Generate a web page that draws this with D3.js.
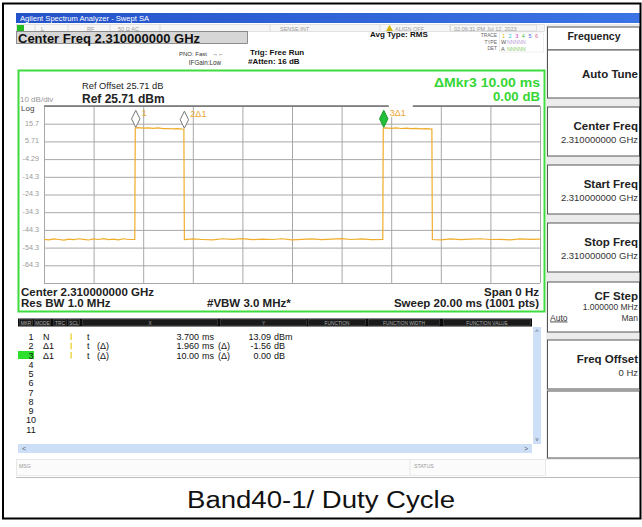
<!DOCTYPE html>
<html><head><meta charset="utf-8">
<script src="https://cdn.jsdelivr.net/npm/d3@7"></script>
<style>body{margin:0;background:#fff}svg{display:block;font-family:"Liberation Sans",Arial,sans-serif}</style>
</head><body><svg id="c" width="642" height="527"></svg>
<script>
// ---------------- DATA ----------------
const xGridMs = [0, 2, 4, 6, 8, 10, 12, 14, 16, 18, 20];
const yGridDbm = [25.71, 15.71, 5.71, -4.29, -14.29, -24.29, -34.29, -44.29, -54.29, -64.29, -74.29];
const yTickValues = [15.71, 5.71, -4.29, -14.29, -24.29, -34.29, -44.29, -54.29, -64.29];
const yTickLabels = ["15.7", "5.71", "-4.29", "-14.3", "-24.3", "-34.3", "-44.3", "-54.3", "-64.3"];

const traceTime = [
  0, 0.2, 0.4, 0.6, 0.8, 1.0, 1.2, 1.4, 1.6, 1.8, 2.0, 2.2, 2.4, 2.6, 2.8, 3.0, 3.2, 3.4, 3.66,
  3.68, 3.8, 4.0, 4.2, 4.4, 4.6, 4.8, 5.0, 5.2, 5.4, 5.64,
  5.66, 6.0, 6.4, 6.8, 7.2, 7.6, 8.0, 8.4, 8.8, 9.2, 9.6, 10.0, 10.4, 10.8, 11.2, 11.6, 12.0, 12.4, 12.8, 13.2, 13.66,
  13.68, 13.8, 14.0, 14.2, 14.4, 14.6, 14.8, 15.0, 15.2, 15.4, 15.64,
  15.66, 16.0, 16.4, 16.8, 17.2, 17.6, 18.0, 18.4, 18.8, 19.2, 19.6, 20.0
];
const traceLevel = [
  -49.6, -49.9, -49.4, -49.7, -50.1, -49.5, -49.8, -49.3, -49.6, -50.0, -49.4, -49.7, -49.2, -49.8, -49.5, -49.9, -49.3, -49.7, -49.6,
  13.3, 13.5, 13.2, 13.4, 13.1, 13.3, 12.9, 13.0, 12.8, 12.9, 12.6,
  -49.8, -49.4, -49.7, -49.9, -49.3, -49.6, -49.2, -49.8, -49.5, -49.7, -49.3, -49.9, -49.6, -49.4, -49.8, -49.5, -49.2, -49.7, -49.4, -49.8, -49.6,
  13.2, 13.4, 13.1, 13.3, 13.0, 13.2, 12.9, 13.1, 12.8, 12.9, 12.7,
  -49.7, -49.9, -49.4, -49.8, -49.5, -49.3, -49.7, -49.6, -49.9, -49.4, -49.6, -49.5
];

const markerTime = [3.70, 5.66, 13.70];
const markerLevel = [13.09, 12.6, 13.09];
const markerLabel = ["1", "2\u03941", "3\u03941"];

const tableHeaders = ["MKR", "MODE", "TRC", "SCL", "X", "Y", "FUNCTION", "FUNCTION WIDTH", "FUNCTION VALUE"];
const mkrNum = ["1", "2", "3", "4", "5", "6", "7", "8", "9", "10", "11"];
const mkrMode = ["N", "\u03941", "\u03941"];
const mkrScl = ["t", "t", "t"];
const mkrSclRel = ["", "(\u0394)", "(\u0394)"];
const mkrXNum = ["3.700", "1.960", "10.00"];
const mkrXUnit = ["ms", "ms", "ms"];
const mkrXRel = ["", "(\u0394)", "(\u0394)"];
const mkrYNum = ["13.09", "-1.56", "0.00"];
const mkrYUnit = ["dBm", "dB", "dB"];

const softkeyTitle = "Frequency";
const softkeyLabels = ["Auto Tune", "Center Freq", "Start Freq", "Stop Freq", "CF Step", "Freq Offset", ""];
const softkeyValues = ["", "2.310000000 GHz", "2.310000000 GHz", "2.310000000 GHz", "1.000000 MHz", "0 Hz", ""];

// ---------------- DRAW ----------------
const svg = d3.select('#c');
const F = '"Liberation Sans", Arial, sans-serif';
function txt(x, y, s, o = {}) {
  const t = svg.append('text').attr('x', x).attr('y', y).text(s)
    .attr('font-size', o.size || 9).attr('fill', o.fill || '#111')
    .attr('font-weight', o.bold ? 'bold' : 'normal')
    .attr('text-anchor', o.anchor || 'start');
  if (o.deco) t.attr('text-decoration', o.deco);
  return t;
}

// title bar
const defs = svg.append('defs');
const lg = defs.append('linearGradient').attr('id', 'tb').attr('x1', 0).attr('x2', 1).attr('y1', 0).attr('y2', 0);
lg.append('stop').attr('offset', 0).attr('stop-color', '#2452c9');
lg.append('stop').attr('offset', 1).attr('stop-color', '#3a74e4');
svg.append('rect').attr('x', 16).attr('y', 13).attr('width', 624).attr('height', 10).attr('fill', 'url(#tb)');
txt(20, 21, 'Agilent Spectrum Analyzer - Swept SA', {size: 7.6, fill: '#fff'});

// status row
svg.append('rect').attr('x', 16.5).attr('y', 24.5).attr('width', 528).attr('height', 7).attr('fill', '#f6f6f6').attr('stroke', '#d0d0d0').attr('stroke-width', 0.6);
svg.append('rect').attr('x', 17).attr('y', 25).attr('width', 7).attr('height', 6).attr('fill', '#22bb22');
[35, 68, 110, 160, 270, 380, 450].forEach(sx => svg.append('line').attr('x1', sx).attr('x2', sx).attr('y1', 25).attr('y2', 31).attr('stroke', '#ccc').attr('stroke-width', 0.6));
const st = {size: 5.5, fill: '#9a9a9a'};
txt(41, 30.5, 'L', st); txt(87, 30.5, 'RF', st); txt(118, 30.5, '50 \u03a9  AC', st);
txt(280, 30.5, 'SENSE:INT', st);
svg.append('path').attr('d', 'M386,31 L389.5,25 L393,31 Z').attr('fill', '#d4b000');
txt(395, 30.5, 'ALIGN OFF', st);
svg.append('rect').attr('x', 450.5).attr('y', 25).attr('width', 86).attr('height', 6).attr('fill', 'none').attr('stroke', '#ccc').attr('stroke-width', 0.5);
txt(454, 30.5, '02:06:31 PM Jul 12, 2023', st);

// center freq box
svg.append('rect').attr('x', 16.5).attr('y', 31.5).attr('width', 231).attr('height', 12).attr('fill', '#d6d6d6').attr('stroke', '#777').attr('stroke-width', 0.8);
txt(18, 42.5, 'Center Freq 2.310000000 GHz', {size: 13, bold: true});

txt(207, 56, 'PNO: Fast', {size: 6, fill: '#333', anchor: 'end'});
txt(212, 56, '\u2192\u2190', {size: 6, fill: '#333'});
txt(221, 64.5, 'IFGain:Low', {size: 6.3, fill: '#333', anchor: 'end'});
txt(250, 55, 'Trig: Free Run', {size: 8, bold: true});
txt(248, 63.5, '#Atten: 16 dB', {size: 8, bold: true});
txt(370, 37, 'Avg Type: RMS', {size: 8, bold: true});

// trace info
const ti = {size: 4.8, fill: '#666', anchor: 'end'};
txt(497, 37, 'TRACE', ti); txt(497, 43.5, 'TYPE', ti); txt(497, 50, 'DET', ti);
svg.append('rect').attr('x', 499.5).attr('y', 33).attr('width', 44).attr('height', 19).attr('fill', 'none').attr('stroke', '#ddd').attr('stroke-width', 0.5);
const tcol = ['#d8c000', '#22bbdd', '#cc44cc', '#44bb44', '#4466ee', '#cc6688'];
tcol.forEach((c, i) => txt(502 + i * 6.6, 37.5, String(i + 1), {size: 5.5, fill: c}));
txt(501, 44, 'W', {size: 5.5, fill: '#555'});
txt(507, 44, 'NNNNN', {size: 5.2, fill: '#b8a0d8'});
txt(501, 50.5, 'A', {size: 5.5, fill: '#555'});
txt(507, 50.5, 'NNNNN', {size: 5.2, fill: '#88cc66'});

// green frame
svg.append('rect').attr('x', 18.5).attr('y', 70.5).attr('width', 526).attr('height', 241).attr('fill', '#fff').attr('stroke', '#3fdc3f').attr('stroke-width', 2);

txt(82, 89, 'Ref Offset 25.71 dB', {size: 9.3, fill: '#222'});
txt(82, 102.5, 'Ref 25.71 dBm', {size: 12, bold: true, fill: '#222'});
txt(20, 101.5, '10 dB/div', {size: 8, fill: '#999'});
txt(21, 111, 'Log', {size: 8, fill: '#444'});
txt(540, 86.5, '\u0394Mkr3 10.00 ms', {size: 12.5, bold: true, fill: '#35d635', anchor: 'end'})
  .attr('textLength', 106).attr('lengthAdjust', 'spacingAndGlyphs');
txt(540, 100.5, '0.00 dB', {size: 12.5, bold: true, fill: '#35d635', anchor: 'end'})
  .attr('textLength', 47).attr('lengthAdjust', 'spacingAndGlyphs');

// scales
const x = d3.scaleLinear().domain([0, 20]).range([44, 540]);
const y = d3.scaleLinear().domain([-74.29, 25.71]).range([283, 106]);

const grid = svg.append('g');
grid.append('g').attr('transform', 'translate(0,283)')
  .call(d3.axisBottom(x).tickValues(xGridMs).tickSize(-(283 - 106)).tickFormat(''))
  .call(g => g.select('.domain').remove())
  .call(g => g.selectAll('line').attr('stroke', '#a8a8a8').attr('stroke-width', 1));
grid.append('g').attr('transform', 'translate(44,0)')
  .call(d3.axisLeft(y).tickValues(yGridDbm).tickSize(-(540 - 44)).tickFormat(''))
  .call(g => g.select('.domain').remove())
  .call(g => g.selectAll('line').attr('stroke', '#a8a8a8').attr('stroke-width', 1));
svg.append('line').attr('x1', 44).attr('x2', 540).attr('y1', y(25.71)).attr('y2', y(25.71)).attr('stroke', '#707070').attr('stroke-width', 1.6);

// y labels
const labelOf = new Map(yTickValues.map((v, i) => [v, yTickLabels[i]]));
svg.append('g').attr('transform', 'translate(39,0)')
  .call(d3.axisLeft(y).tickValues(yTickValues).tickSize(0).tickPadding(0).tickFormat(d => labelOf.get(d)))
  .call(g => g.select('.domain').remove())
  .call(g => g.selectAll('text').attr('fill', '#9a9a9a').attr('font-size', 7.2).attr('font-family', F).attr('dy', '0.2em'));

// trace
const pts = traceTime.map((t, i) => [t, traceLevel[i]]);
svg.append('path').datum(pts)
  .attr('d', d3.line().x(d => x(d[0])).y(d => y(d[1])))
  .attr('fill', 'none').attr('stroke', '#f0ad2a').attr('stroke-width', 1.2);

// markers
markerTime.forEach((t, i) => {
  const mx = x(t), my = y(markerLevel[i]) - 1;
  if (i === 2) {
    svg.append('rect').attr('x', mx + 5).attr('y', 103).attr('width', 24).attr('height', 14).attr('fill', '#fff');
  }
  svg.append('path').attr('d', `M${mx},${my} L${mx + 4.2},${my - 8.5} L${mx},${my - 17} L${mx - 4.2},${my - 8.5} Z`)
    .attr('fill', i === 2 ? '#22c03a' : '#fff').attr('stroke', i === 2 ? '#159a28' : '#777').attr('stroke-width', 1);
  txt(mx + 6, my - 11, markerLabel[i], {size: 9, fill: '#eaa52c'});
});

// bottom annotations
txt(21, 296, 'Center 2.310000000 GHz', {size: 11.5, bold: true, fill: '#222'});
txt(21, 307, 'Res BW 1.0 MHz', {size: 11.5, bold: true, fill: '#222'});
txt(207, 307, '#VBW 3.0 MHz*', {size: 11.5, bold: true, fill: '#222'});
txt(539, 296, 'Span 0 Hz', {size: 11.5, bold: true, fill: '#222', anchor: 'end'});
txt(539, 307, 'Sweep  20.00 ms (1001 pts)', {size: 11.5, bold: true, fill: '#222', anchor: 'end'});

// marker table header
svg.append('rect').attr('x', 18).attr('y', 318.5).attr('width', 514).attr('height', 8).attr('fill', '#0a0a0a');
const colX = [[19, 33], [34, 51], [53, 67], [68, 80], [82, 218], [220, 307], [308, 366], [368, 440], [443, 531]];
tableHeaders.forEach((h, i) => {
  const [a, b] = colX[i];
  svg.append('rect').attr('x', a + 0.5).attr('y', 319.5).attr('width', b - a - 1).attr('height', 6).attr('fill', '#1a1a1a').attr('stroke', '#555').attr('stroke-width', 0.5);
  txt((a + b) / 2, 324.6, h, {size: 4.8, fill: '#aaa', anchor: 'middle'});
});

// rows
svg.append('rect').attr('x', 18).attr('y', 351).attr('width', 16).attr('height', 8).attr('fill', '#2ee02e');
mkrNum.forEach((n, i) => {
  const by = 340 + i * 9.26;
  txt(31, by, n, {size: 9, anchor: 'middle', fill: '#111'});
  if (i < mkrMode.length) {
    txt(43, by, mkrMode[i], {size: 9});
    svg.append('rect').attr('x', 70.5).attr('y', by - 6.5).attr('width', 1.2).attr('height', 6.5).attr('fill', '#e6cf1c');
    txt(87, by, mkrScl[i], {size: 9});
    txt(97, by, mkrSclRel[i], {size: 9});
    txt(199, by, mkrXNum[i], {size: 9, anchor: 'end'});
    txt(202, by, mkrXUnit[i], {size: 9});
    txt(218, by, mkrXRel[i], {size: 9});
    txt(271, by, mkrYNum[i], {size: 9, anchor: 'end'});
    txt(274, by, mkrYUnit[i], {size: 9});
  }
});

// scrollbars
svg.append('rect').attr('x', 18).attr('y', 444).attr('width', 514).attr('height', 9).attr('fill', '#cddff7');
txt(22, 451, '<', {size: 7, fill: '#556'});
txt(524, 451, '>', {size: 7, fill: '#556'});
svg.append('rect').attr('x', 533).attr('y', 327).attr('width', 8).attr('height', 117).attr('fill', '#cddff7');
txt(537, 334, '^', {size: 7, fill: '#556', anchor: 'middle'});
txt(537, 441, 'v', {size: 6, fill: '#556', anchor: 'middle'});

// status bar
svg.append('rect').attr('x', 16.5).attr('y', 459.5).attr('width', 529).attr('height', 16).attr('fill', '#fbfbfb').attr('stroke', '#dcdcdc').attr('stroke-width', 0.6);
svg.append('line').attr('x1', 410).attr('x2', 410).attr('y1', 460).attr('y2', 475).attr('stroke', '#dcdcdc').attr('stroke-width', 0.6);
txt(19, 468, 'MSG', {size: 5.2, fill: '#999'});
txt(414, 468, 'STATUS', {size: 5.2, fill: '#999'});

// softkey panel
svg.append('rect').attr('x', 546).attr('y', 24).attr('width', 94).attr('height', 436).attr('fill', '#ececec');
svg.append('rect').attr('x', 547.5).attr('y', 27).attr('width', 92).attr('height', 23).attr('fill', '#fff').attr('stroke', '#555').attr('stroke-width', 1);
txt(594, 39.5, softkeyTitle, {size: 10.5, anchor: 'middle', fill: '#222', bold: true});
const keyTop = [50, 107, 165, 223, 282, 340, 391];
const keyBot = [98, 156, 214, 272, 332, 389, 458];
softkeyLabels.forEach((lab, i) => {
  svg.append('rect').attr('x', 547.5).attr('y', keyTop[i]).attr('width', 92).attr('height', keyBot[i] - keyTop[i]).attr('fill', '#fff').attr('stroke', '#555').attr('stroke-width', 1);
  const mid = (keyTop[i] + keyBot[i]) / 2;
  if (!lab) return;
  const hasVal = softkeyValues[i] !== '';
  if (lab === 'CF Step') {
    txt(638, 299.5, lab, {size: 11.5, bold: true, fill: '#222', anchor: 'end'});
    txt(638, 309.5, softkeyValues[i], {size: 8.5, fill: '#333', anchor: 'end'});
  } else {
    txt(638, hasVal ? mid - 1.5 : mid + 4, lab, {size: 11.5, bold: true, fill: '#222', anchor: 'end'});
    if (hasVal) txt(638, mid + 11.5, softkeyValues[i], {size: 9.5, fill: '#333', anchor: 'end'});
  }
});
txt(550, 320.5, 'Auto', {size: 8.5, fill: '#333', deco: 'underline'});
txt(638, 320.5, 'Man', {size: 8.5, fill: '#333', anchor: 'end'});

// screenshot bottom edge & outer frame
svg.append('line').attr('x1', 16).attr('x2', 640).attr('y1', 477.5).attr('y2', 477.5).attr('stroke', '#bbb').attr('stroke-width', 1);
svg.append('rect').attr('x', 3).attr('y', 3.5).attr('width', 637.5).attr('height', 515).attr('fill', 'none').attr('stroke', '#000').attr('stroke-width', 2);

// caption
txt(321, 508, 'Band40-1/ Duty Cycle', {size: 23, fill: '#111', anchor: 'middle'}).attr('textLength', 268).attr('lengthAdjust', 'spacingAndGlyphs');
</script></body></html>
